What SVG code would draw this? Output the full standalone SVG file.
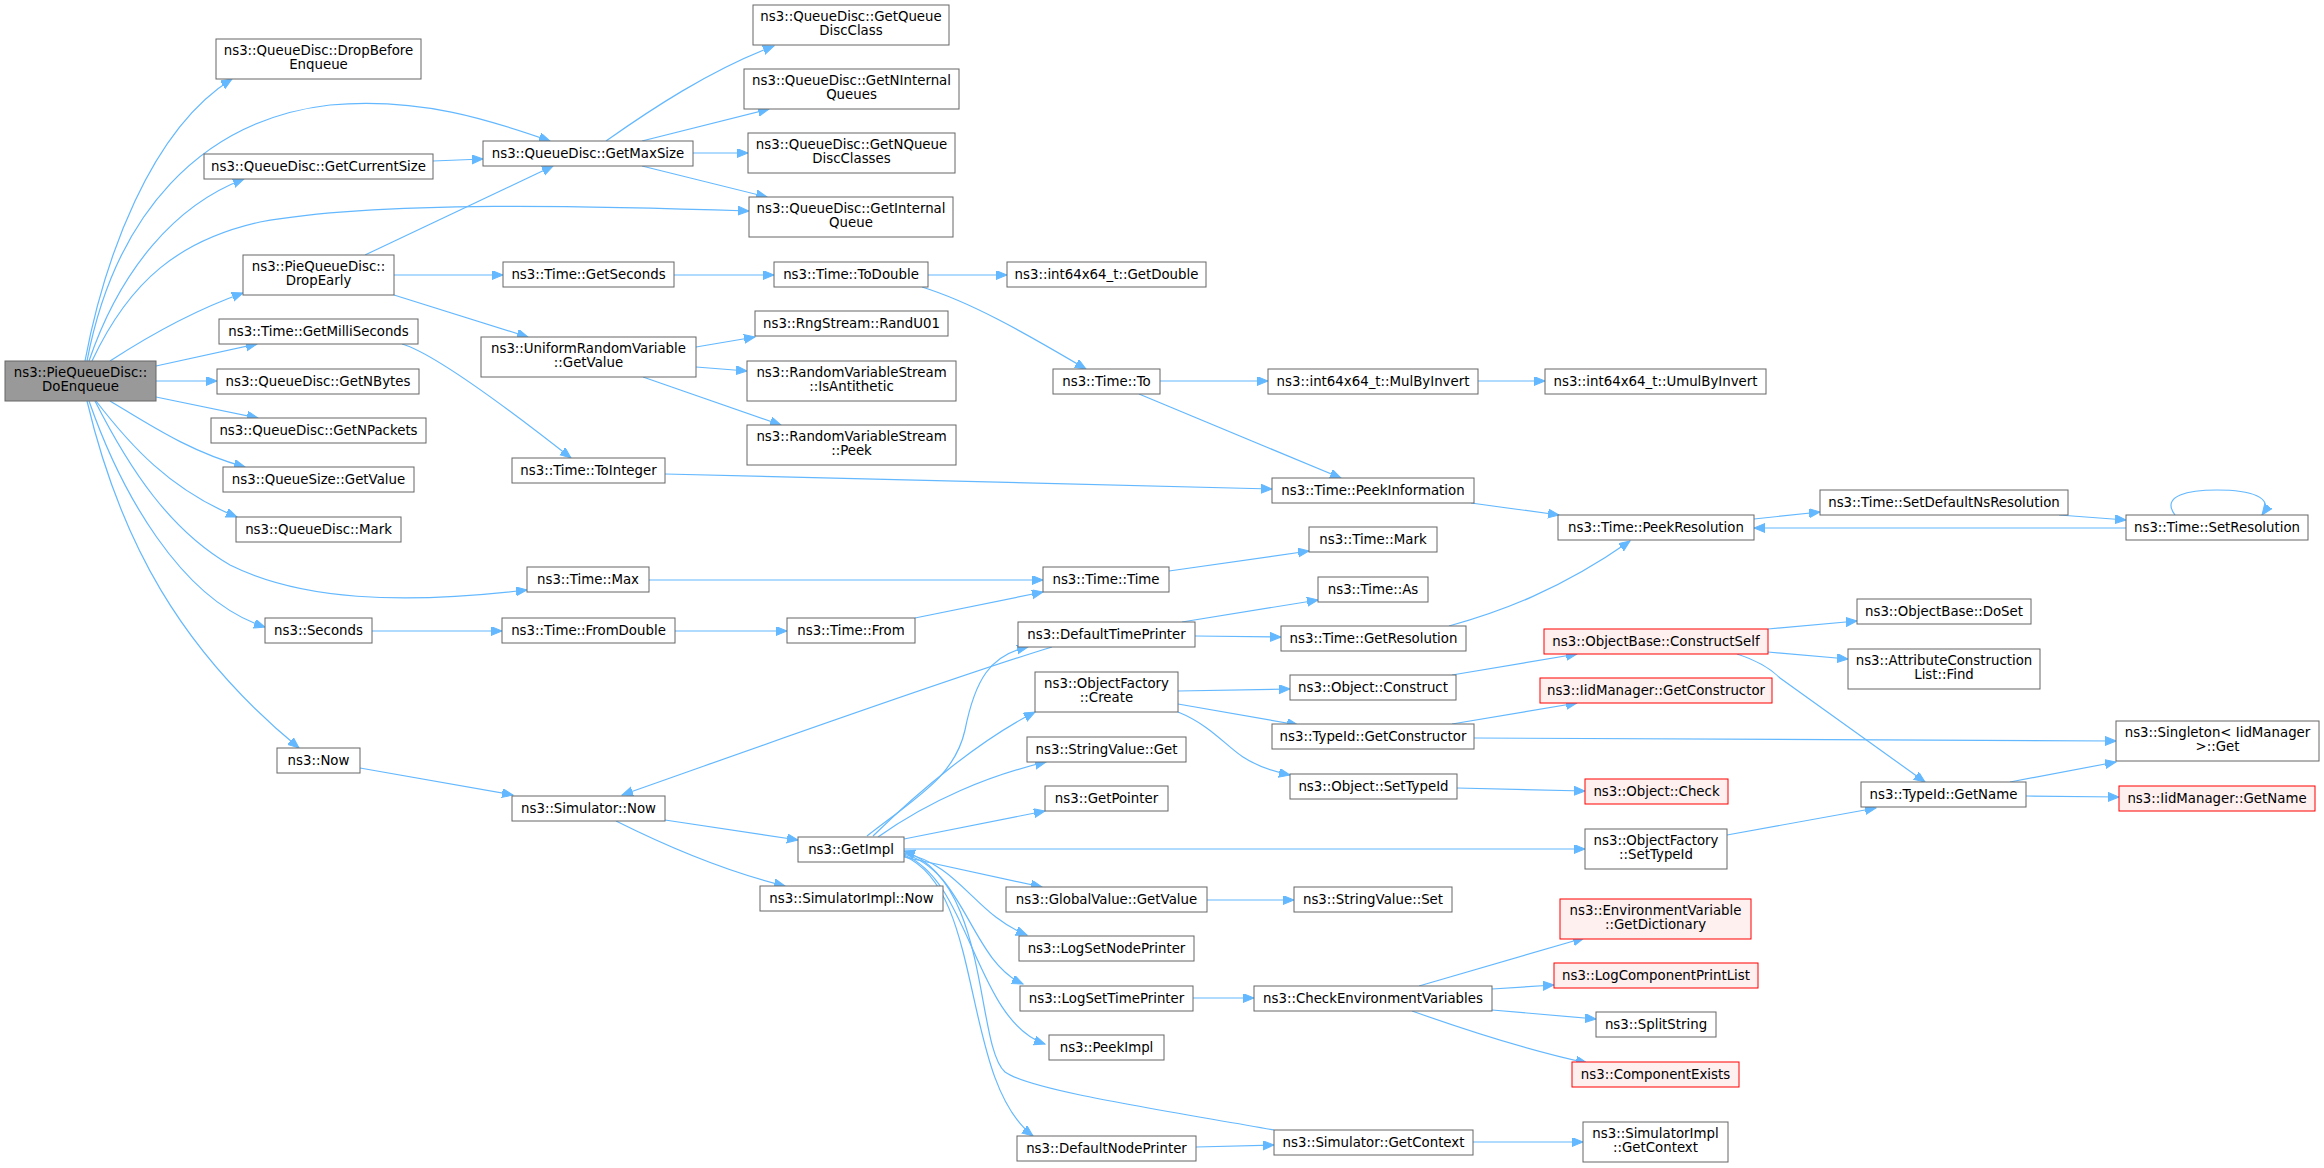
<svg xmlns="http://www.w3.org/2000/svg" width="2324" height="1168" viewBox="0 0 2324 1168">
<style>
rect{fill:#ffffff;stroke:#666666;stroke-width:1}
.root rect{fill:#999999;stroke:#666666}
.red rect{fill:#fff0f0;stroke:#ff0000}
text{font-family:"DejaVu Sans","Liberation Sans",sans-serif;font-size:13.33px;text-anchor:middle;fill:#000000}
#edges path{fill:none;stroke:#63b8ff;stroke-width:1.2;marker-end:url(#ah)}
</style>
<defs>
<marker id="ah" markerUnits="userSpaceOnUse" markerWidth="12" markerHeight="10" refX="11" refY="4.5" orient="auto">
<path d="M0,0 L11,4.5 L0,9 z" fill="#63b8ff" stroke="#63b8ff" stroke-width="1"/>
</marker>
</defs>
<rect x="0" y="0" width="2324" height="1168" style="fill:#ffffff;stroke:none"/>
<g id="edges">
<path d="M85,361 C104,260 150,130 232,79"/>
<path d="M87,361 C115,215 200,120 330,105 C420,97 490,120 550,141"/>
<path d="M89,361 C120,270 175,205 244,179"/>
<path d="M92,361 C130,280 180,240 260,222 C380,200 600,206 749,211"/>
<path d="M110,361 C150,335 195,310 243,293"/>
<path d="M156,366 L257,344"/>
<path d="M156,381 L217,381"/>
<path d="M156,397 L258,418"/>
<path d="M110,401 C150,425 190,452 245,467"/>
<path d="M96,401 C130,445 170,490 237,517"/>
<path d="M95,401 C130,470 170,530 230,565 C300,600 400,605 527,590"/>
<path d="M89,401 C120,490 180,600 265,627"/>
<path d="M87,401 C120,540 180,650 299,748"/>
<path d="M433,161 L483,159"/>
<path d="M365,255 L553,166"/>
<path d="M394,275 L503,275"/>
<path d="M394,295 L528,337"/>
<path d="M402,344 Q440,355 571,458"/>
<path d="M606,141 C650,110 710,70 774,46"/>
<path d="M642,141 L769,109"/>
<path d="M693,153 L748,153"/>
<path d="M642,166 L767,197"/>
<path d="M674,275 L774,275"/>
<path d="M928,275 L1007,275"/>
<path d="M922,287 C970,302 1020,330 1086,369"/>
<path d="M696,347 L755,337"/>
<path d="M696,367 L747,371"/>
<path d="M643,377 L781,425"/>
<path d="M665,474 L1272,489"/>
<path d="M649,580 L1043,580"/>
<path d="M372,631 L502,631"/>
<path d="M675,631 L787,631"/>
<path d="M915,618 L1043,592"/>
<path d="M360,768 L513,795"/>
<path d="M665,820 L798,840"/>
<path d="M616,821 C660,843 720,870 785,886"/>
<path d="M1052,647 C950,678 750,750 622,795"/>
<path d="M867,836 C920,795 955,775 965,730 C975,680 990,655 1028,647"/>
<path d="M873,836 C920,790 980,740 1035,712"/>
<path d="M878,837 C930,800 990,775 1046,762"/>
<path d="M904,839 L1045,811"/>
<path d="M904,849 L1585,849"/>
<path d="M904,857 L1042,887"/>
<path d="M904,853 C960,865 975,915 1027,935"/>
<path d="M904,854 C965,870 970,960 1023,984"/>
<path d="M904,855 C970,880 975,1020 1045,1044"/>
<path d="M904,856 C985,890 960,1080 1033,1136"/>
<path d="M1274,1130 C1150,1108 1030,1090 1005,1072 C975,1045 990,880 904,851"/>
<path d="M1160,381 L1268,381"/>
<path d="M1478,381 L1545,381"/>
<path d="M1139,394 L1341,478"/>
<path d="M1471,503 L1559,515"/>
<path d="M1169,571 L1309,551"/>
<path d="M1182,622 L1318,600"/>
<path d="M1195,636 L1281,637"/>
<path d="M1449,626 C1500,612 1560,590 1630,541"/>
<path d="M1178,691 L1290,689"/>
<path d="M1178,704 L1298,725"/>
<path d="M1178,712 C1210,725 1225,745 1243,757 C1260,768 1275,772 1290,775"/>
<path d="M1452,675 L1577,654"/>
<path d="M1452,724 L1577,703"/>
<path d="M1474,738 L2116,741"/>
<path d="M1457,788 L1585,791"/>
<path d="M1207,900 L1294,900"/>
<path d="M1193,998 L1254,998"/>
<path d="M1196,1147 L1274,1145"/>
<path d="M1473,1142 L1583,1142"/>
<path d="M1419,986 L1584,938"/>
<path d="M1492,989 L1554,985"/>
<path d="M1492,1010 L1596,1019"/>
<path d="M1412,1011 C1460,1028 1526,1050 1587,1063"/>
<path d="M1768,629 L1857,621"/>
<path d="M1768,652 L1848,659"/>
<path d="M1737,654 Q1765,663 1780,678 L1925,782"/>
<path d="M1727,835 L1876,808"/>
<path d="M2010,782 L2116,762"/>
<path d="M2026,796 L2119,797"/>
<path d="M1754,519 L1820,512"/>
<path d="M2059,515 L2126,520"/>
<path d="M2126,528 L1754,528"/>
<path d="M2175,515 C2160,495 2190,490 2217,490 C2250,490 2275,497 2262,515"/>
</g>
<g id="n0" class="root"><rect x="5" y="361" width="151" height="40"/><text x="80.5" y="377">ns3::PieQueueDisc::</text><text x="80.5" y="391">DoEnqueue</text></g>
<g id="n1"><rect x="216" y="39" width="205" height="40"/><text x="318.5" y="55">ns3::QueueDisc::DropBefore</text><text x="318.5" y="69">Enqueue</text></g>
<g id="n2"><rect x="204" y="154" width="229" height="25"/><text x="318.5" y="170.5">ns3::QueueDisc::GetCurrentSize</text></g>
<g id="n3"><rect x="243" y="255" width="151" height="40"/><text x="318.5" y="271">ns3::PieQueueDisc::</text><text x="318.5" y="285">DropEarly</text></g>
<g id="n4"><rect x="219" y="319" width="199" height="25"/><text x="318.5" y="335.5">ns3::Time::GetMilliSeconds</text></g>
<g id="n5"><rect x="217" y="369" width="202" height="25"/><text x="318" y="385.5">ns3::QueueDisc::GetNBytes</text></g>
<g id="n6"><rect x="211" y="418" width="215" height="25"/><text x="318.5" y="434.5">ns3::QueueDisc::GetNPackets</text></g>
<g id="n7"><rect x="223" y="467" width="191" height="25"/><text x="318.5" y="483.5">ns3::QueueSize::GetValue</text></g>
<g id="n8"><rect x="236" y="517" width="165" height="25"/><text x="318.5" y="533.5">ns3::QueueDisc::Mark</text></g>
<g id="n9"><rect x="265" y="618" width="107" height="25"/><text x="318.5" y="634.5">ns3::Seconds</text></g>
<g id="n10"><rect x="277" y="748" width="83" height="25"/><text x="318.5" y="764.5">ns3::Now</text></g>
<g id="n11"><rect x="483" y="141" width="210" height="25"/><text x="588" y="157.5">ns3::QueueDisc::GetMaxSize</text></g>
<g id="n12"><rect x="503" y="262" width="171" height="25"/><text x="588.5" y="278.5">ns3::Time::GetSeconds</text></g>
<g id="n13"><rect x="481" y="337" width="215" height="40"/><text x="588.5" y="353">ns3::UniformRandomVariable</text><text x="588.5" y="367">::GetValue</text></g>
<g id="n14"><rect x="512" y="458" width="153" height="25"/><text x="588.5" y="474.5">ns3::Time::ToInteger</text></g>
<g id="n15"><rect x="527" y="567" width="122" height="25"/><text x="588" y="583.5">ns3::Time::Max</text></g>
<g id="n16"><rect x="502" y="618" width="173" height="25"/><text x="588.5" y="634.5">ns3::Time::FromDouble</text></g>
<g id="n17"><rect x="512" y="796" width="153" height="25"/><text x="588.5" y="812.5">ns3::Simulator::Now</text></g>
<g id="n18"><rect x="753" y="5" width="196" height="40"/><text x="851" y="21">ns3::QueueDisc::GetQueue</text><text x="851" y="35">DiscClass</text></g>
<g id="n19"><rect x="744" y="69" width="215" height="40"/><text x="851.5" y="85">ns3::QueueDisc::GetNInternal</text><text x="851.5" y="99">Queues</text></g>
<g id="n20"><rect x="748" y="133" width="207" height="40"/><text x="851.5" y="149">ns3::QueueDisc::GetNQueue</text><text x="851.5" y="163">DiscClasses</text></g>
<g id="n21"><rect x="749" y="197" width="204" height="40"/><text x="851" y="213">ns3::QueueDisc::GetInternal</text><text x="851" y="227">Queue</text></g>
<g id="n22"><rect x="774" y="262" width="154" height="25"/><text x="851" y="278.5">ns3::Time::ToDouble</text></g>
<g id="n23"><rect x="755" y="311" width="193" height="25"/><text x="851.5" y="327.5">ns3::RngStream::RandU01</text></g>
<g id="n24"><rect x="747" y="361" width="209" height="40"/><text x="851.5" y="377">ns3::RandomVariableStream</text><text x="851.5" y="391">::IsAntithetic</text></g>
<g id="n25"><rect x="747" y="425" width="209" height="40"/><text x="851.5" y="441">ns3::RandomVariableStream</text><text x="851.5" y="455">::Peek</text></g>
<g id="n26"><rect x="787" y="618" width="128" height="25"/><text x="851" y="634.5">ns3::Time::From</text></g>
<g id="n27"><rect x="798" y="837" width="106" height="25"/><text x="851" y="853.5">ns3::GetImpl</text></g>
<g id="n28"><rect x="760" y="886" width="183" height="25"/><text x="851.5" y="902.5">ns3::SimulatorImpl::Now</text></g>
<g id="n29"><rect x="1007" y="262" width="199" height="25"/><text x="1106.5" y="278.5">ns3::int64x64_t::GetDouble</text></g>
<g id="n30"><rect x="1053" y="369" width="107" height="25"/><text x="1106.5" y="385.5">ns3::Time::To</text></g>
<g id="n31"><rect x="1043" y="567" width="126" height="25"/><text x="1106" y="583.5">ns3::Time::Time</text></g>
<g id="n32"><rect x="1018" y="622" width="177" height="25"/><text x="1106.5" y="638.5">ns3::DefaultTimePrinter</text></g>
<g id="n33"><rect x="1035" y="672" width="143" height="40"/><text x="1106.5" y="688">ns3::ObjectFactory</text><text x="1106.5" y="702">::Create</text></g>
<g id="n34"><rect x="1027" y="737" width="159" height="25"/><text x="1106.5" y="753.5">ns3::StringValue::Get</text></g>
<g id="n35"><rect x="1045" y="786" width="123" height="25"/><text x="1106.5" y="802.5">ns3::GetPointer</text></g>
<g id="n36"><rect x="1006" y="887" width="201" height="25"/><text x="1106.5" y="903.5">ns3::GlobalValue::GetValue</text></g>
<g id="n37"><rect x="1019" y="936" width="175" height="25"/><text x="1106.5" y="952.5">ns3::LogSetNodePrinter</text></g>
<g id="n38"><rect x="1020" y="986" width="173" height="25"/><text x="1106.5" y="1002.5">ns3::LogSetTimePrinter</text></g>
<g id="n39"><rect x="1049" y="1035" width="115" height="25"/><text x="1106.5" y="1051.5">ns3::PeekImpl</text></g>
<g id="n40"><rect x="1017" y="1136" width="179" height="25"/><text x="1106.5" y="1152.5">ns3::DefaultNodePrinter</text></g>
<g id="n41"><rect x="1268" y="369" width="210" height="25"/><text x="1373" y="385.5">ns3::int64x64_t::MulByInvert</text></g>
<g id="n42"><rect x="1272" y="478" width="202" height="25"/><text x="1373" y="494.5">ns3::Time::PeekInformation</text></g>
<g id="n43"><rect x="1309" y="527" width="128" height="25"/><text x="1373" y="543.5">ns3::Time::Mark</text></g>
<g id="n44"><rect x="1318" y="577" width="110" height="25"/><text x="1373" y="593.5">ns3::Time::As</text></g>
<g id="n45"><rect x="1281" y="626" width="185" height="25"/><text x="1373.5" y="642.5">ns3::Time::GetResolution</text></g>
<g id="n46"><rect x="1290" y="675" width="166" height="25"/><text x="1373" y="691.5">ns3::Object::Construct</text></g>
<g id="n47"><rect x="1272" y="724" width="202" height="25"/><text x="1373" y="740.5">ns3::TypeId::GetConstructor</text></g>
<g id="n48"><rect x="1290" y="774" width="167" height="25"/><text x="1373.5" y="790.5">ns3::Object::SetTypeId</text></g>
<g id="n49"><rect x="1294" y="887" width="158" height="25"/><text x="1373" y="903.5">ns3::StringValue::Set</text></g>
<g id="n50"><rect x="1254" y="986" width="238" height="25"/><text x="1373" y="1002.5">ns3::CheckEnvironmentVariables</text></g>
<g id="n51"><rect x="1274" y="1130" width="199" height="25"/><text x="1373.5" y="1146.5">ns3::Simulator::GetContext</text></g>
<g id="n52"><rect x="1545" y="369" width="221" height="25"/><text x="1655.5" y="385.5">ns3::int64x64_t::UmulByInvert</text></g>
<g id="n53"><rect x="1558" y="515" width="196" height="25"/><text x="1656" y="531.5">ns3::Time::PeekResolution</text></g>
<g id="n54" class="red"><rect x="1544" y="629" width="224" height="25"/><text x="1656" y="645.5">ns3::ObjectBase::ConstructSelf</text></g>
<g id="n55" class="red"><rect x="1540" y="678" width="232" height="25"/><text x="1656" y="694.5">ns3::IidManager::GetConstructor</text></g>
<g id="n56" class="red"><rect x="1585" y="779" width="143" height="25"/><text x="1656.5" y="795.5">ns3::Object::Check</text></g>
<g id="n57"><rect x="1585" y="829" width="142" height="40"/><text x="1656" y="845">ns3::ObjectFactory</text><text x="1656" y="859">::SetTypeId</text></g>
<g id="n58" class="red"><rect x="1560" y="899" width="191" height="40"/><text x="1655.5" y="915">ns3::EnvironmentVariable</text><text x="1655.5" y="929">::GetDictionary</text></g>
<g id="n59" class="red"><rect x="1554" y="963" width="204" height="25"/><text x="1656" y="979.5">ns3::LogComponentPrintList</text></g>
<g id="n60"><rect x="1596" y="1012" width="120" height="25"/><text x="1656" y="1028.5">ns3::SplitString</text></g>
<g id="n61" class="red"><rect x="1572" y="1062" width="167" height="25"/><text x="1655.5" y="1078.5">ns3::ComponentExists</text></g>
<g id="n62"><rect x="1583" y="1122" width="145" height="40"/><text x="1655.5" y="1138">ns3::SimulatorImpl</text><text x="1655.5" y="1152">::GetContext</text></g>
<g id="n63"><rect x="1820" y="490" width="248" height="25"/><text x="1944" y="506.5">ns3::Time::SetDefaultNsResolution</text></g>
<g id="n64"><rect x="1857" y="599" width="174" height="25"/><text x="1944" y="615.5">ns3::ObjectBase::DoSet</text></g>
<g id="n65"><rect x="1848" y="649" width="192" height="40"/><text x="1944" y="665">ns3::AttributeConstruction</text><text x="1944" y="679">List::Find</text></g>
<g id="n66"><rect x="1861" y="782" width="165" height="25"/><text x="1943.5" y="798.5">ns3::TypeId::GetName</text></g>
<g id="n67"><rect x="2126" y="515" width="182" height="25"/><text x="2217" y="531.5">ns3::Time::SetResolution</text></g>
<g id="n68"><rect x="2116" y="721" width="203" height="40"/><text x="2217.5" y="737">ns3::Singleton&lt; IidManager</text><text x="2217.5" y="751">&gt;::Get</text></g>
<g id="n69" class="red"><rect x="2119" y="786" width="196" height="25"/><text x="2217" y="802.5">ns3::IidManager::GetName</text></g>
</svg>
